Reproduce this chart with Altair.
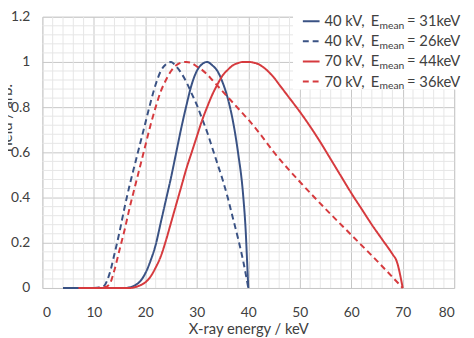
import altair as alt
import pandas as pd

# ---------------- data ----------------
b40_solid_x = [4, 10, 16, 17, 18, 19, 20, 21, 22, 23, 24, 25, 26, 27, 28, 29, 30, 31, 32, 33, 34, 35, 36, 37, 38, 39, 39.5, 39.8, 40]
b40_solid_y = [0, 0, 0, 0.003, 0.012, 0.03, 0.065, 0.12, 0.19, 0.29, 0.39, 0.49, 0.60, 0.71, 0.81, 0.90, 0.96, 0.99, 1.0, 0.985, 0.96, 0.91, 0.84, 0.74, 0.60, 0.41, 0.25, 0.10, 0]

b40_dash_x = [10, 11, 12, 13, 14, 15, 16, 17, 18, 19, 20, 21, 22, 23, 24, 25, 26, 27, 28, 29, 30, 31, 32, 33, 34, 35, 36, 37, 38, 39, 40]
b40_dash_y = [0, 0.002, 0.01, 0.06, 0.15, 0.25, 0.36, 0.46, 0.55, 0.64, 0.73, 0.82, 0.90, 0.96, 0.99, 1.0, 0.98, 0.95, 0.91, 0.86, 0.81, 0.75, 0.69, 0.62, 0.55, 0.48, 0.40, 0.31, 0.22, 0.12, 0]

r70_solid_x = [7, 12, 17, 18, 19, 20, 21, 22, 23, 24, 25, 26, 27, 28, 29, 30, 31, 32, 33, 34, 35, 36, 37, 38, 39, 40,
               41, 42, 43, 44, 45, 46, 47, 48, 50, 52, 54, 56, 58, 60, 62, 64, 66, 68, 68.8, 70]
r70_solid_y = [0, 0, 0, 0.004, 0.012, 0.025, 0.05, 0.09, 0.14, 0.21, 0.29, 0.37, 0.45, 0.53, 0.60, 0.67, 0.74, 0.80, 0.855, 0.90, 0.94, 0.965, 0.985, 0.995, 1.0, 1.0,
               0.997, 0.99, 0.975, 0.955, 0.93, 0.90, 0.87, 0.84, 0.78, 0.715, 0.645, 0.57, 0.495, 0.42, 0.35, 0.28, 0.215, 0.15, 0.12, 0]

r70_dash_x = [10, 12, 13, 14, 15, 16, 17, 18, 19, 20, 21, 22, 23, 24, 25, 26, 27, 28, 29, 30, 31, 32, 33, 34, 35, 36, 37, 38, 39, 40, 42, 45, 50, 55, 60, 65, 70]
r70_dash_y = [0, 0.003, 0.015, 0.08, 0.17, 0.26, 0.36, 0.45, 0.54, 0.63, 0.72, 0.80, 0.87, 0.92, 0.96, 0.985, 0.997, 1.0, 0.995, 0.98, 0.965, 0.945, 0.92, 0.895, 0.87, 0.845, 0.82, 0.795, 0.77, 0.745, 0.69, 0.60, 0.47, 0.35, 0.235, 0.12, 0]

series_main = ["40 kV,", "40 kV,", "70 kV,", "70 kV,"]
series_tail = ["= 31keV", "= 26keV", "= 44keV", "= 36keV"]
series_x = [b40_solid_x, b40_dash_x, r70_solid_x, r70_dash_x]
series_y = [b40_solid_y, b40_dash_y, r70_solid_y, r70_dash_y]

x_ticks = [0, 10, 20, 30, 40, 50, 60, 70, 80]
y_ticks = [0, 0.2, 0.4, 0.6, 0.8, 1.0, 1.2]
x_minor = [v for v in range(0, 81, 2) if v % 10 != 0]
y_minor = [round(k * 0.04, 2) for k in range(0, 31) if k % 5 != 0]

# ---------------- styles ----------------
BLUE = "#3A5284"
RED = "#D63A3E"
colors = [BLUE, BLUE, RED, RED]
dashes = [[1, 0], [6, 4], [1, 0], [6, 4]]
FONT = "Lato"
TXT = "#404040"
W, H = 419, 276

xscale = alt.Scale(domain=[0, 80], nice=False, zero=False)
yscale = alt.Scale(domain=[0, 1.2], nice=False, zero=False)

x_axis = alt.Axis(values=x_ticks, format="d", grid=True, gridColor="#c6c6c6", gridWidth=1,
                  domain=False, ticks=False, labelPadding=18, labelFont=FONT, labelFontSize=14,
                  labelColor=TXT, titleFont=FONT, titleFontSize=15, titleFontWeight="normal",
                  titleColor=TXT, titleY=41, titleBaseline="middle")
y_axis = alt.Axis(values=y_ticks, format=".1~f", grid=True, gridColor="#c6c6c6", gridWidth=1,
                  domain=False, ticks=False, labelPadding=13, labelFont=FONT, labelFontSize=14,
                  labelColor=TXT, titleFont=FONT, titleFontSize=15, titleFontWeight="normal",
                  titleColor=TXT, titleX=-31, titleY=104, titleAngle=270,
                  titleAlign="center", titleBaseline="alphabetic")
XT = "X-ray energy / keV"
YT = "Yield / arb."


def X(f="x"):
    return alt.X(f + ":Q", scale=xscale, axis=x_axis, title=XT)


def Y(f="y"):
    return alt.Y(f + ":Q", scale=yscale, axis=y_axis, title=YT)


# minor grid
minor_v = alt.Chart(pd.DataFrame({"x": x_minor})).mark_rule(color="#e6e6e6", strokeWidth=1).encode(x=X())
minor_h = alt.Chart(pd.DataFrame({"y": y_minor})).mark_rule(color="#e6e6e6", strokeWidth=1).encode(y=Y())

layers = [minor_v, minor_h]

for i in range(4):
    df = pd.DataFrame({"x": series_x[i], "y": series_y[i]})
    layers.append(
        alt.Chart(df).mark_line(color=colors[i], strokeWidth=2, strokeDash=dashes[i],
                                interpolate="monotone").encode(x=X(), y=Y())
    )

# legend box and entries
one = pd.DataFrame({"a": [0]})
layers.append(
    alt.Chart(one).mark_rect(fill="white").encode(
        x=alt.value(255), x2=alt.value(435), y=alt.value(-14), y2=alt.value(74)
    )
)
row_y = [4.5, 25.0, 45.5, 66.0]
for i in range(4):
    ry = row_y[i]
    layers.append(
        alt.Chart(one).mark_rule(color=colors[i], strokeWidth=2, strokeDash=dashes[i]).encode(
            x=alt.value(265), x2=alt.value(282), y=alt.value(ry)
        )
    )
    base = dict(align="left", baseline="middle", font=FONT, color=TXT)
    layers.append(alt.Chart(one).mark_text(fontSize=15, **base).encode(
        x=alt.value(287), y=alt.value(ry), text=alt.value(series_main[i])))
    layers.append(alt.Chart(one).mark_text(fontSize=15, **base).encode(
        x=alt.value(334), y=alt.value(ry), text=alt.value("E")))
    layers.append(alt.Chart(one).mark_text(fontSize=10.5, **base).encode(
        x=alt.value(343), y=alt.value(ry + 4.5), text=alt.value("mean")))
    layers.append(alt.Chart(one).mark_text(fontSize=15, **base).encode(
        x=alt.value(371), y=alt.value(ry), text=alt.value(series_tail[i])))

chart = alt.layer(*layers).properties(
    width=W, height=H,
    autosize=alt.AutoSizeParams(type="none"),
    padding={"left": 35, "top": 6, "right": 12, "bottom": 48},
).configure_view(stroke=None).configure(background="white")

chart.save("out.html", embed_options={"renderer": "svg", "actions": False})
